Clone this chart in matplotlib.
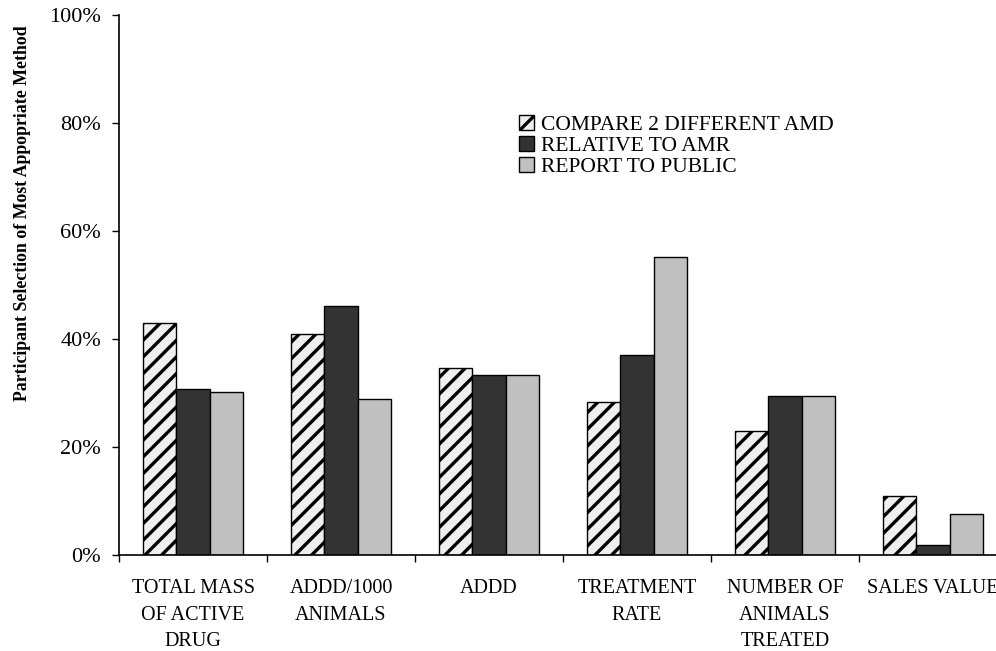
import matplotlib
matplotlib.use('Agg')
import matplotlib.pyplot as plt
import numpy as np

categories = ['TOTAL MASS\nOF ACTIVE\nDRUG', 'ADDD/1000\nANIMALS', 'ADDD',
              'TREATMENT\nRATE', 'NUMBER OF\nANIMALS\nTREATED', 'SALES VALUE']
compare_amd = [42.9, 41.0, 34.6, 28.3, 23.0, 10.9]
relative_amr = [30.8, 46.2, 33.3, 37.0, 29.4, 1.9]
report_public = [30.1, 28.8, 33.3, 55.2, 29.4, 7.6]
series_labels = ['COMPARE 2 DIFFERENT AMD', 'RELATIVE TO AMR', 'REPORT TO PUBLIC']

plt.rcParams['font.family'] = ['Liberation Serif', 'DejaVu Serif']
plt.rcParams['hatch.linewidth'] = 2.4
plt.rcParams['hatch.color'] = '#1a1a1a'

fig = plt.figure(figsize=(9.96, 6.51), dpi=100)
W, H = 996, 651
# axes right edge runs past the figure, as in the reference
ax = fig.add_axes([119 / W, (H - 555) / H, (1007 - 119) / W, 540 / H])

x = np.arange(len(categories))
width = 0.224
ax.bar(x - width, compare_amd, width, color='#efefef', edgecolor='black', linewidth=1.0,
       hatch='//', label=series_labels[0])
ax.bar(x, relative_amr, width, color='#333333', edgecolor='black', linewidth=1.0,
       label=series_labels[1])
ax.bar(x + width, report_public, width, color='#c0c0c0', edgecolor='black', linewidth=1.0,
       label=series_labels[2])

ax.set_xlim(-0.5, len(categories) - 0.5)
ax.set_ylim(0, 100)
ax.set_yticks(np.arange(0, 101, 20))
ax.set_yticklabels([f'{v}%' for v in range(0, 101, 20)], fontsize=16)
ax.tick_params(axis='y', direction='out', length=5, width=1, pad=8)

ax.set_xticks(np.arange(-0.5, len(categories), 1.0))
ax.set_xticklabels([])
ax.tick_params(axis='x', which='major', direction='out', length=5, width=1)
ax.set_xticks(x, minor=True)
ax.set_xticklabels(categories, minor=True, fontsize=14.5, linespacing=1.52)
ax.tick_params(axis='x', which='minor', length=0, pad=17.5)

for side in ['top', 'right']:
    ax.spines[side].set_visible(False)
ax.spines['left'].set_linewidth(1.2)
ax.spines['bottom'].set_linewidth(1.2)

fig.text(23 / W, 1 - 213 / H, 'Participant Selection of Most Appopriate Method',
         rotation=90, ha='center', va='center', fontsize=12.8, fontweight='bold')

ax.legend(loc='upper left', bbox_to_anchor=(510 / W, 1 - 106 / H),
          bbox_transform=fig.transFigure, frameon=False, fontsize=15.5,
          handlelength=0.7, handleheight=0.7, handletextpad=0.35,
          labelspacing=0.06, borderaxespad=0)

fig.savefig('out.png', dpi=100)
